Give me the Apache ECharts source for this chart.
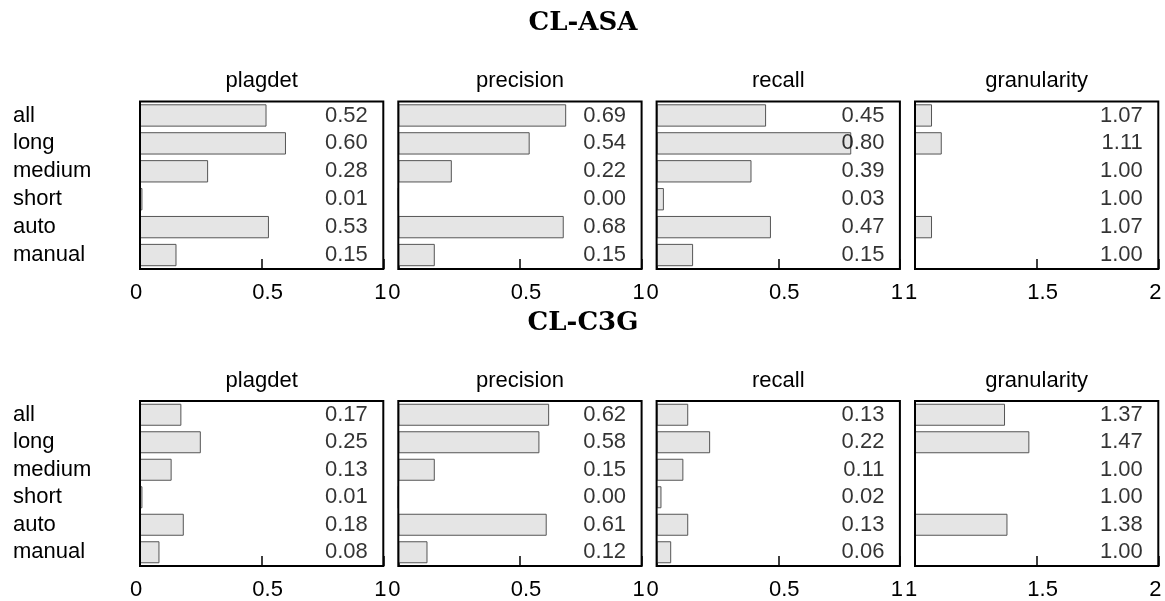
<!DOCTYPE html>
<html><head><meta charset="utf-8">
<script src="https://cdn.jsdelivr.net/npm/echarts@6/dist/echarts.min.js"></script>
<style>html,body{margin:0;padding:0;background:#fff}#c{width:1165px;height:601px}</style>
</head><body><div id="c"></div>
<script>
// ---- data ----
const categories = ['all', 'long', 'medium', 'short', 'auto', 'manual'];
const metrics = ['plagdet', 'precision', 'recall', 'granularity'];
const blockTitles = ['CL-ASA', 'CL-C3G'];
const asaPlagdet     = [0.52, 0.60, 0.28, 0.01, 0.53, 0.15];
const asaPrecision   = [0.69, 0.54, 0.22, 0.00, 0.68, 0.15];
const asaRecall      = [0.45, 0.80, 0.39, 0.03, 0.47, 0.15];
const asaGranularity = [1.07, 1.11, 1.00, 1.00, 1.07, 1.00];
const c3gPlagdet     = [0.17, 0.25, 0.13, 0.01, 0.18, 0.08];
const c3gPrecision   = [0.62, 0.58, 0.15, 0.00, 0.61, 0.12];
const c3gRecall      = [0.13, 0.22, 0.11, 0.02, 0.13, 0.06];
const c3gGranularity = [1.37, 1.47, 1.00, 1.00, 1.38, 1.00];
const axisMins = [0, 0, 0, 1];
const axisMaxs = [1, 1, 1, 2];
const axisStep = 0.5;

const blocks = [
  [asaPlagdet, asaPrecision, asaRecall, asaGranularity],
  [c3gPlagdet, c3gPrecision, c3gRecall, c3gGranularity]
];

// ---- layout ----
const FONT = '"Liberation Sans", Arial, sans-serif';
const FS = 22;
const panelLefts = [140, 398.3, 656.6, 915];
const panelWidth = 243.3;
const rowTops = [101.5, 401];
const panelHeight = 167.5;
const blockTitleY = [23, 323.5];
const panelTitleY = [80.5, 380.5];

const grids = [], xAxes = [], yAxes = [], series = [], graphics = [];

blocks.forEach((blk, b) => {
  graphics.push({
    type: 'text', x: 583, y: blockTitleY[b], z: 10,
    style: { text: blockTitles[b], font: 'bold 26px "DejaVu Serif", serif', fill: '#000',
             align: 'center', verticalAlign: 'middle', textAlign: 'center', textVerticalAlign: 'middle' }
  });
  blk.forEach((vals, m) => {
    const gi = b * 4 + m;
    const mn = axisMins[m], mx = axisMaxs[m];
    graphics.push({
      type: 'text', x: panelLefts[m] + panelWidth / 2, y: panelTitleY[b], z: 10,
      style: { text: metrics[m], font: FS + 'px ' + FONT, fill: '#000',
               align: 'center', verticalAlign: 'middle', textAlign: 'center', textVerticalAlign: 'middle' }
    });
    grids.push({
      left: panelLefts[m], top: rowTops[b], width: panelWidth, height: panelHeight,
      show: true, borderColor: '#000', borderWidth: 2, backgroundColor: 'transparent', z: 5
    });
    xAxes.push({
      gridIndex: gi, type: 'value', min: mn, max: mx, interval: axisStep,
      axisLine: { show: false },
      axisTick: { show: true, inside: true, length: 10, lineStyle: { color: '#000', width: 1.5 } },
      splitLine: { show: false },
      axisLabel: {
        margin: 13, color: '#000', fontSize: FS, fontFamily: FONT,
        formatter: (v) => {
          const t = String(v);
          if (v === mn) return '{l|' + t + '}';
          if (v === mx) return '{r|' + t + '}';
          return '{m|' + t + '}';
        },
        rich: {
          l: { padding: [0, 8, 0, 0], fontSize: FS, fontFamily: FONT, color: '#000' },
          m: { padding: [0, 0, 0, 12], fontSize: FS, fontFamily: FONT, color: '#000' },
          r: { padding: [0, 6, 0, 0], fontSize: FS, fontFamily: FONT, color: '#000' }
        }
      }
    });
    yAxes.push({
      gridIndex: gi, type: 'category', data: categories, inverse: true,
      axisLine: { show: false }, axisTick: { show: false }, splitLine: { show: false },
      axisLabel: { show: m === 0, interval: 0, align: 'left', margin: 127, color: '#000', fontSize: FS, fontFamily: FONT }
    });
    series.push({
      type: 'bar', xAxisIndex: gi, yAxisIndex: gi, data: vals, silent: true, clip: true,
      barCategoryGap: '20%',
      itemStyle: { color: '#e5e5e5', borderColor: '#555', borderWidth: 1 },
      z: 2
    });
    series.push({
      type: 'scatter', xAxisIndex: gi, yAxisIndex: gi, silent: true, clip: false,
      data: vals.map((v, i) => [mx, categories[i]]),
      symbolSize: 1, itemStyle: { color: 'rgba(0,0,0,0)' },
      label: {
        show: true, position: 'left', distance: 15, color: '#000', fontSize: FS, fontFamily: FONT,
        formatter: (p) => vals[p.dataIndex].toFixed(2)
      },
      labelLayout: { hideOverlap: false },
      z: 3
    });
  });
});

const chart = echarts.init(document.getElementById('c'), null, { renderer: 'canvas' });
chart.setOption({
  animation: false,
  backgroundColor: '#fff',
  grid: grids, xAxis: xAxes, yAxis: yAxes, series: series, graphic: graphics
});
</script>
</body></html>
